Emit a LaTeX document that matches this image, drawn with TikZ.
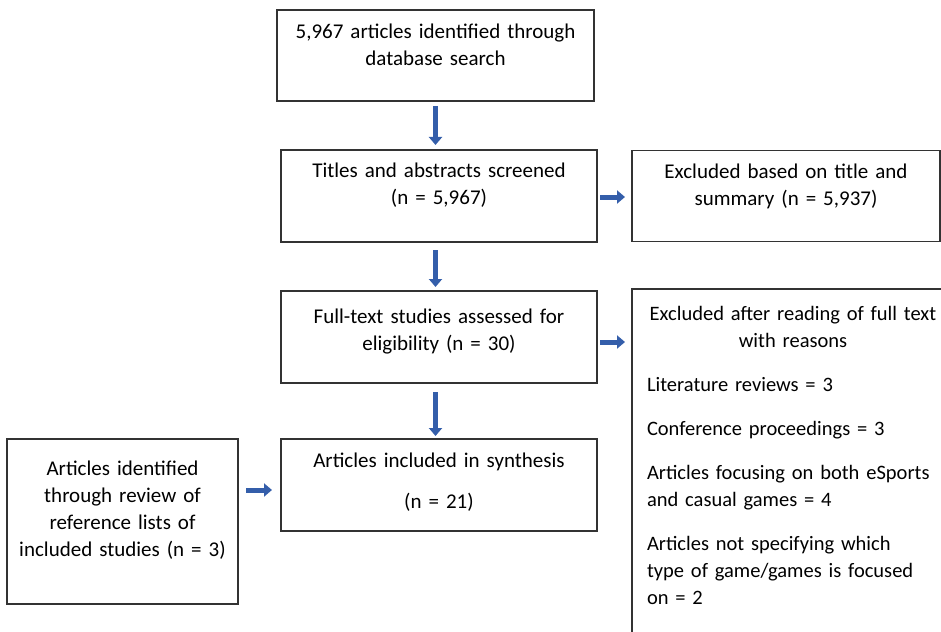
\documentclass[tikz,border=0pt]{standalone}
\usepackage{fontspec}
\setmainfont{Carlito}
\usetikzlibrary{arrows.meta,positioning}
\definecolor{flowblue}{RGB}{52,94,170}
\tikzset{
    %Define standard arrow tip
    >={Triangle[width=13pt,length=8pt]},
    %Define style for boxes
    stage/.style={
           rectangle,
           draw=black!80, line width=1.2pt,
           text width=316pt,
           minimum height=92pt,
           inner sep=0pt, outer sep=0pt,
           align=center,
           font=\fontsize{21}{27}\selectfont},
    % Push the text up inside a box
    lift/.style={execute at end node={\par\vspace{#1}}},
    % Define arrow style
    flow/.style={
           ->,
           line width=5pt,
           flowblue}
}
\begin{document}
\begin{tikzpicture}[x=1pt, y=-1pt]
\useasboundingbox (0,0) rectangle (941,631);
\node[stage, text width=317pt, minimum height=91pt, lift=22pt] (search) at (435.5,55.5)
    {5,967 articles identified through\\database search};
\node[stage, below=49pt of search, xshift=3.5pt, lift=21pt] (screen)
    {Titles and abstracts screened\\(n = 5,967)};
\node[stage, right=35pt of screen, text width=308pt, minimum height=91pt, lift=20pt] (exclTitle)
    {Excluded based on title and\\summary (n = 5,937)};
\node[stage, below=49pt of screen, lift=11pt] (fulltext)
    {Full-text studies assessed for\\eligibility (n = 30)};
\node[stage, below=56pt of fulltext, lift=5pt] (included)
    {Articles included in synthesis\\[14pt](n = 21)};
\node[stage, text width=231pt, minimum height=165pt, lift=22pt,
      left=43pt of included.north west, anchor=north east] (handsearch)
    {Articles identified\\through review of\\reference lists of\\included studies (n = 3)};
\node[stage, align=left, text width=292pt, inner xsep=15pt, inner ysep=17pt, minimum height=0pt,
      font=\fontsize{20.5}{27}\selectfont, lift=60pt,
      right=35pt of fulltext.north east, anchor=north west, yshift=2pt] (exclFull)
    {\centering Excluded after reading of full text\\with reasons\par\vspace{17pt}
     \raggedright Literature reviews = 3\\[17pt]
     Conference proceedings = 3\\[17pt]
     Articles focusing on both eSports\\and casual games = 4\\[17pt]
     Articles not specifying which\\type of game/games is focused\\on = 2};

% down the main column
\draw[flow, shorten <=5pt, shorten >=5pt] (search.south) -- (search.south |- screen.north);
\draw[flow, shorten <=8pt, shorten >=4pt] (search.south |- screen.south) -- (search.south |- fulltext.north);
\draw[flow, shorten <=9pt, shorten >=3pt] (search.south |- fulltext.south) -- (search.south |- included.north);
% side arrows
\draw[flow, shorten <=3pt, shorten >=7pt] ([yshift=-1pt]screen.east) -- ([yshift=-1pt]screen.east -| exclTitle.west);
\draw[flow, shorten <=3pt, shorten >=7pt] ([yshift=-5pt]fulltext.east) -- ([yshift=-5pt]fulltext.east -| exclFull.west);
\draw[flow, shorten <=8pt, shorten >=9pt] ([yshift=-5pt]included.west -| handsearch.east) -- ([yshift=-5pt]included.west);
\end{tikzpicture}
\end{document}
